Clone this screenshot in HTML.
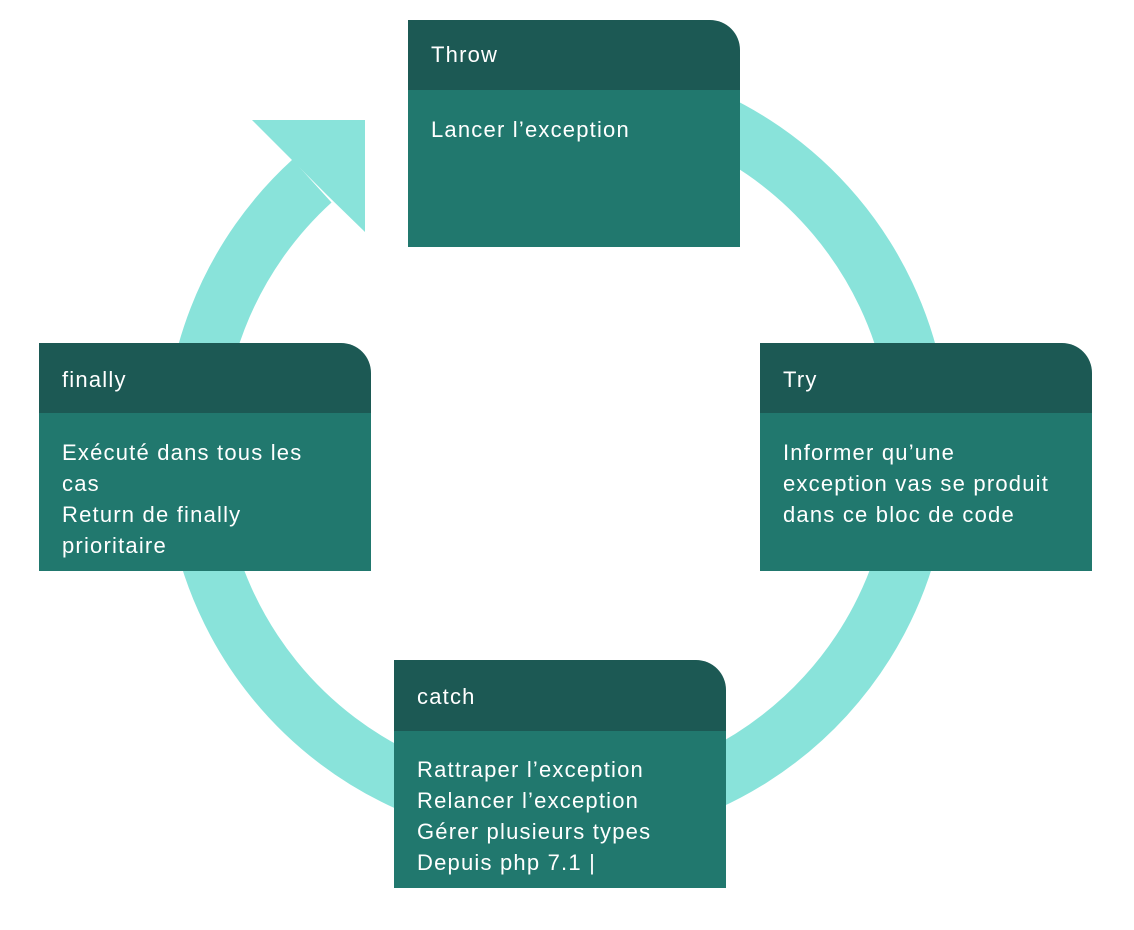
<!DOCTYPE html>
<html><head><meta charset="utf-8"><style>
html,body{margin:0;padding:0;background:#fff;}
svg{display:block}
text{font-family:"Liberation Sans",sans-serif;font-size:22px;letter-spacing:1.2px;fill:#fff;}
</style></head><body>
<svg width="1134" height="930" viewBox="0 0 1134 930" xmlns="http://www.w3.org/2000/svg">
<path d="M312,181 A364,364 0 1 0 420,113" fill="none" stroke="#89e3da" stroke-width="58"/>
<polygon points="252,120 365,120 365,232 327,195 289,157" fill="#89e3da"/>
<g>
<path d="M408,20 H710 A30,30 0 0 1 740,50 V90 H408 Z" fill="#1c5954"/>
<rect x="408" y="90" width="332" height="157" fill="#21786e"/>
<text x="431" y="62">Throw</text>
<text x="431" y="137">Lancer l’exception</text>
</g>
<g>
<path d="M760,343 H1062 A30,30 0 0 1 1092,373 V413 H760 Z" fill="#1c5954"/>
<rect x="760" y="413" width="332" height="158" fill="#21786e"/>
<text x="783" y="387">Try</text>
<text x="783" y="460">Informer qu’une</text>
<text x="783" y="491">exception vas se produit</text>
<text x="783" y="522">dans ce bloc de code</text>
</g>
<g>
<path d="M39,343 H341 A30,30 0 0 1 371,373 V413 H39 Z" fill="#1c5954"/>
<rect x="39" y="413" width="332" height="158" fill="#21786e"/>
<text x="62" y="387">finally</text>
<text x="62" y="460">Exécuté dans tous les</text>
<text x="62" y="491">cas</text>
<text x="62" y="522">Return de finally</text>
<text x="62" y="553">prioritaire</text>
</g>
<g>
<path d="M394,660 H696 A30,30 0 0 1 726,690 V731 H394 Z" fill="#1c5954"/>
<rect x="394" y="731" width="332" height="157" fill="#21786e"/>
<text x="417" y="704">catch</text>
<text x="417" y="777">Rattraper l’exception</text>
<text x="417" y="808">Relancer l’exception</text>
<text x="417" y="839">Gérer plusieurs types</text>
<text x="417" y="870">Depuis php 7.1 |</text>
</g>
</svg>
</body></html>
